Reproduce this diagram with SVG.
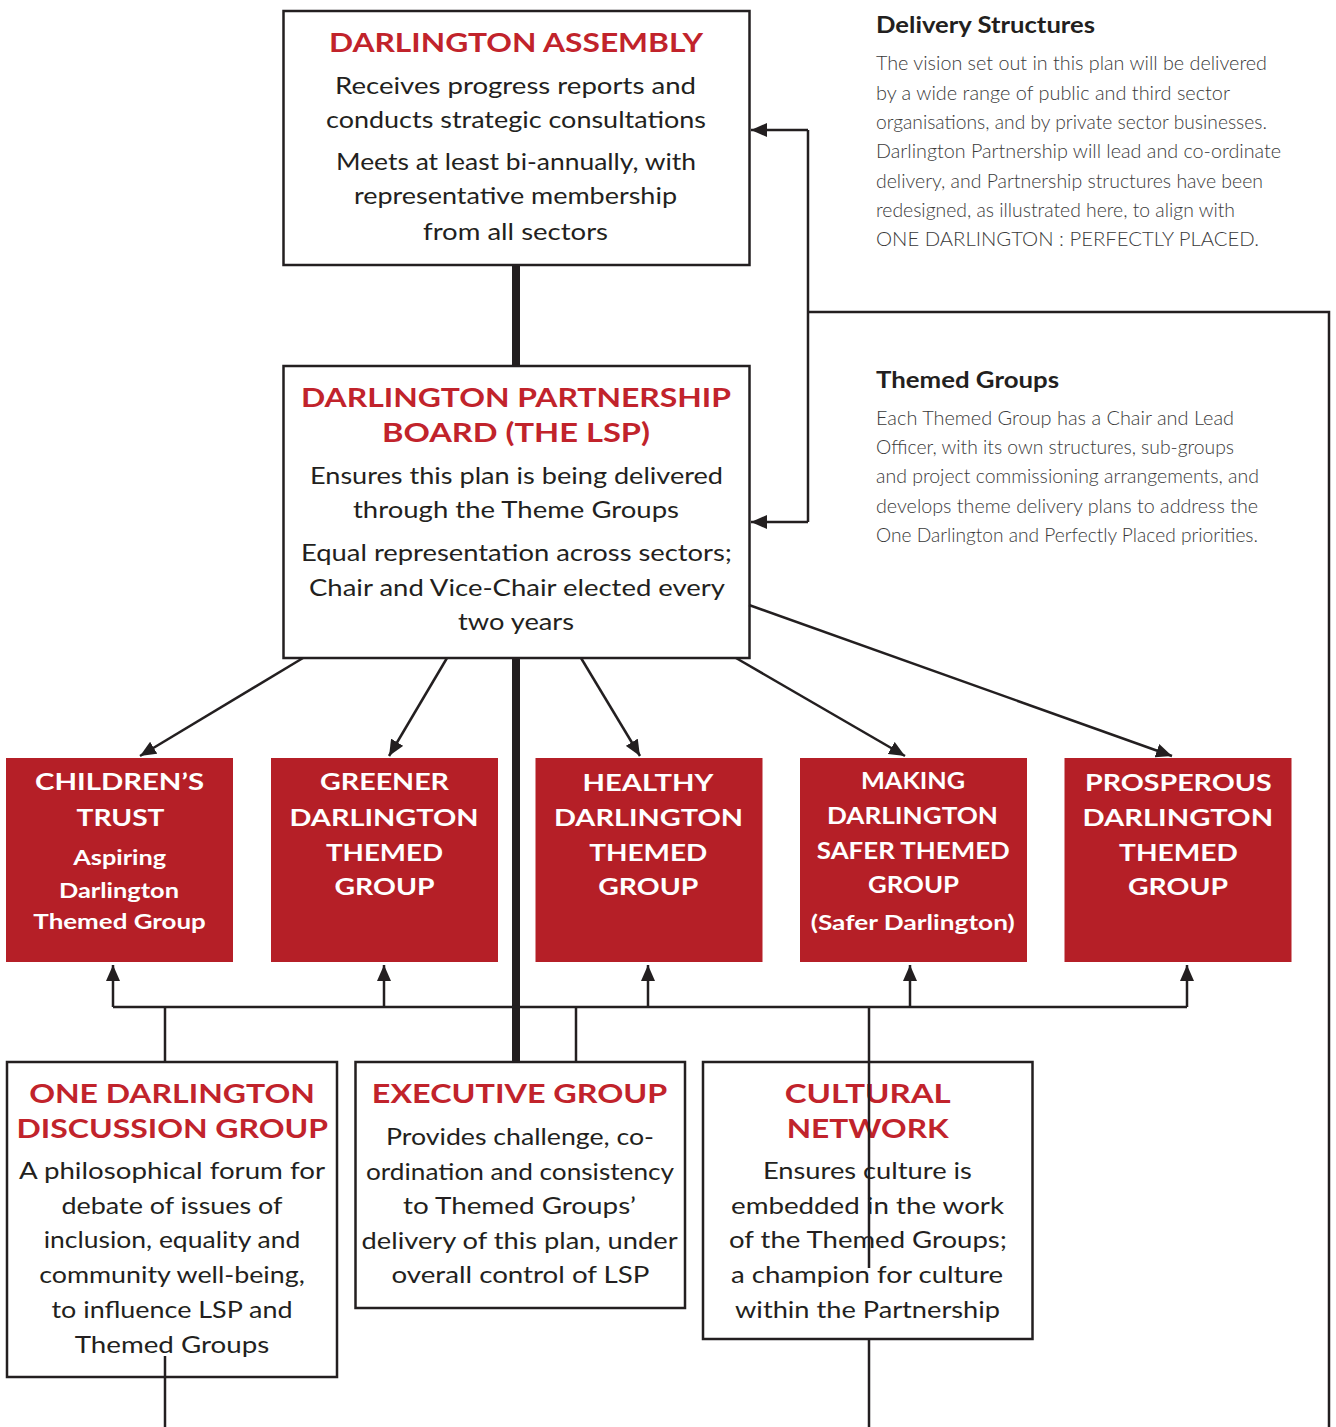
<svg xmlns="http://www.w3.org/2000/svg" width="1336" height="1427" viewBox="0 0 1336 1427">
<defs>
<marker id="ah" viewBox="0 0 16 14" refX="16" refY="7" markerWidth="16" markerHeight="14" markerUnits="userSpaceOnUse" orient="auto"><path d="M0,0 L16,7 L0,14 z" fill="#231f20"/></marker>
<style>
.box{fill:#fff;stroke:#231f20;stroke-width:2.5}
.red{fill:#b51f27}
text{font-family:Lato,"Open Sans","Liberation Sans",sans-serif;text-anchor:middle}
.t{fill:#c1232b;font-weight:bold;font-size:27px}
.b{fill:#231f20;font-size:24px}
.w{fill:#fff;font-weight:bold;font-size:23px}
.ws{fill:#fff;font-weight:bold;font-size:21px}
.h{fill:#231f20;font-weight:bold;font-size:22px;text-anchor:start}
.p{fill:#3a3a3a;font-weight:300;font-size:20px;text-anchor:start}
.ln{fill:none;stroke:#231f20;stroke-width:2.5}
.thick{fill:none;stroke:#231f20;stroke-width:8}
</style>
</defs>
<rect width="1336" height="1427" fill="#fff"/>

<g id="assembly">
<rect class="box" x="283.5" y="11" width="466" height="254"/>
<text class="t" x="516" y="52" textLength="374" lengthAdjust="spacingAndGlyphs">DARLINGTON ASSEMBLY</text>
<text class="b" x="515.5" y="94" textLength="361" lengthAdjust="spacingAndGlyphs">Receives progress reports and</text>
<text class="b" x="516" y="128" textLength="380" lengthAdjust="spacingAndGlyphs">conducts strategic consultations</text>
<text class="b" x="516" y="170" textLength="360" lengthAdjust="spacingAndGlyphs">Meets at least bi-annually, with</text>
<text class="b" x="515.5" y="204" textLength="323" lengthAdjust="spacingAndGlyphs">representative membership</text>
<text class="b" x="515.5" y="240" textLength="185" lengthAdjust="spacingAndGlyphs">from all sectors</text>
</g>

<g id="partnership">
<rect class="box" x="283.5" y="366" width="466" height="292"/>
<text class="t" x="516" y="407" textLength="430" lengthAdjust="spacingAndGlyphs">DARLINGTON PARTNERSHIP</text>
<text class="t" x="516" y="442" textLength="268" lengthAdjust="spacingAndGlyphs">BOARD (THE LSP)</text>
<text class="b" x="516.5" y="484" textLength="413" lengthAdjust="spacingAndGlyphs">Ensures this plan is being delivered</text>
<text class="b" x="516" y="518" textLength="326" lengthAdjust="spacingAndGlyphs">through the Theme Groups</text>
<text class="b" x="516.5" y="561" textLength="431" lengthAdjust="spacingAndGlyphs">Equal representation across sectors;</text>
<text class="b" x="517" y="596" textLength="416" lengthAdjust="spacingAndGlyphs">Chair and Vice-Chair elected every</text>
<text class="b" x="516" y="630" textLength="116" lengthAdjust="spacingAndGlyphs">two years</text>
</g>

<g id="delivery-structures">
<text class="h" x="876" y="33" textLength="219" lengthAdjust="spacingAndGlyphs">Delivery Structures</text>
<text class="p" x="876" y="70" textLength="391" lengthAdjust="spacingAndGlyphs">The vision set out in this plan will be delivered</text>
<text class="p" x="876" y="99.5" textLength="354" lengthAdjust="spacingAndGlyphs">by a wide range of public and third sector</text>
<text class="p" x="876" y="128.7" textLength="391" lengthAdjust="spacingAndGlyphs">organisations, and by private sector businesses.</text>
<text class="p" x="876" y="158" textLength="405" lengthAdjust="spacingAndGlyphs">Darlington Partnership will lead and co-ordinate</text>
<text class="p" x="876" y="187.5" textLength="387" lengthAdjust="spacingAndGlyphs">delivery, and Partnership structures have been</text>
<text class="p" x="876" y="216.7" textLength="359" lengthAdjust="spacingAndGlyphs">redesigned, as illustrated here, to align with</text>
<text class="p" x="876" y="245.7" textLength="383" lengthAdjust="spacingAndGlyphs">ONE DARLINGTON : PERFECTLY PLACED.</text>
</g>

<g id="themed-groups-note">
<text class="h" x="876" y="388" textLength="183" lengthAdjust="spacingAndGlyphs">Themed Groups</text>
<text class="p" x="876" y="425" textLength="358" lengthAdjust="spacingAndGlyphs">Each Themed Group has a Chair and Lead</text>
<text class="p" x="876" y="454.3" textLength="358" lengthAdjust="spacingAndGlyphs">Officer, with its own structures, sub-groups</text>
<text class="p" x="876" y="483.3" textLength="383" lengthAdjust="spacingAndGlyphs">and project commissioning arrangements, and</text>
<text class="p" x="876" y="512.7" textLength="382" lengthAdjust="spacingAndGlyphs">develops theme delivery plans to address the</text>
<text class="p" x="876" y="541.7" textLength="382" lengthAdjust="spacingAndGlyphs">One Darlington and Perfectly Placed priorities.</text>
</g>

<g id="childrens-trust">
<rect class="red" x="6" y="758" width="227" height="204"/>
<text class="w" x="119.5" y="790" textLength="169" lengthAdjust="spacingAndGlyphs">CHILDREN’S</text>
<text class="w" x="120.5" y="826" textLength="88" lengthAdjust="spacingAndGlyphs">TRUST</text>
<text class="ws" x="119.7" y="865" textLength="93" lengthAdjust="spacingAndGlyphs">Aspiring</text>
<text class="ws" x="119" y="898" textLength="120" lengthAdjust="spacingAndGlyphs">Darlington</text>
<text class="ws" x="119.6" y="929" textLength="172.5" lengthAdjust="spacingAndGlyphs">Themed Group</text>
</g>

<g id="greener">
<rect class="red" x="271" y="758" width="227" height="204"/>
<text class="w" x="384.5" y="790" textLength="129" lengthAdjust="spacingAndGlyphs">GREENER</text>
<text class="w" x="384" y="826" textLength="189" lengthAdjust="spacingAndGlyphs">DARLINGTON</text>
<text class="w" x="384.5" y="861" textLength="117" lengthAdjust="spacingAndGlyphs">THEMED</text>
<text class="w" x="384.5" y="895" textLength="100" lengthAdjust="spacingAndGlyphs">GROUP</text>
</g>

<g id="healthy">
<rect class="red" x="535.5" y="758" width="227" height="204"/>
<text class="w" x="648" y="791" textLength="131" lengthAdjust="spacingAndGlyphs">HEALTHY</text>
<text class="w" x="648.5" y="826" textLength="189" lengthAdjust="spacingAndGlyphs">DARLINGTON</text>
<text class="w" x="648.3" y="861" textLength="118" lengthAdjust="spacingAndGlyphs">THEMED</text>
<text class="w" x="648.3" y="895" textLength="100" lengthAdjust="spacingAndGlyphs">GROUP</text>
</g>

<g id="making-safer">
<rect class="red" x="800" y="758" width="227" height="204"/>
<text class="w" x="913" y="789" textLength="104" lengthAdjust="spacingAndGlyphs">MAKING</text>
<text class="w" x="912.5" y="824" textLength="171" lengthAdjust="spacingAndGlyphs">DARLINGTON</text>
<text class="w" x="913.3" y="859" textLength="193" lengthAdjust="spacingAndGlyphs">SAFER THEMED</text>
<text class="w" x="913.5" y="893" textLength="91" lengthAdjust="spacingAndGlyphs">GROUP</text>
<text class="ws" x="912.7" y="930" textLength="204" lengthAdjust="spacingAndGlyphs">(Safer Darlington)</text>
</g>

<g id="prosperous">
<rect class="red" x="1064.5" y="758" width="227" height="204"/>
<text class="w" x="1178.3" y="791" textLength="186.5" lengthAdjust="spacingAndGlyphs">PROSPEROUS</text>
<text class="w" x="1177.8" y="826" textLength="190.6" lengthAdjust="spacingAndGlyphs">DARLINGTON</text>
<text class="w" x="1178.4" y="861" textLength="118.7" lengthAdjust="spacingAndGlyphs">THEMED</text>
<text class="w" x="1178" y="895" textLength="100" lengthAdjust="spacingAndGlyphs">GROUP</text>
</g>

<g id="one-darlington">
<rect class="box" x="7" y="1062" width="330" height="315"/>
<text class="t" x="172" y="1103" textLength="285.7" lengthAdjust="spacingAndGlyphs">ONE DARLINGTON</text>
<text class="t" x="172.3" y="1137.5" textLength="311.6" lengthAdjust="spacingAndGlyphs">DISCUSSION GROUP</text>
<text class="b" x="172" y="1179.3" textLength="306" lengthAdjust="spacingAndGlyphs">A philosophical forum for</text>
<text class="b" x="172" y="1214.3" textLength="221" lengthAdjust="spacingAndGlyphs">debate of issues of</text>
<text class="b" x="172" y="1248.3" textLength="256.7" lengthAdjust="spacingAndGlyphs">inclusion, equality and</text>
<text class="b" x="172" y="1283.3" textLength="265.6" lengthAdjust="spacingAndGlyphs">community well-being,</text>
<text class="b" x="172" y="1318.3" textLength="241" lengthAdjust="spacingAndGlyphs">to influence LSP and</text>
<text class="b" x="172" y="1352.7" textLength="194.6" lengthAdjust="spacingAndGlyphs">Themed Groups</text>
</g>

<g id="executive-group">
<rect class="box" x="355.5" y="1062" width="329.5" height="246"/>
<text class="t" x="519.6" y="1103" textLength="295.5" lengthAdjust="spacingAndGlyphs">EXECUTIVE GROUP</text>
<text class="b" x="520" y="1145" textLength="268" lengthAdjust="spacingAndGlyphs">Provides challenge, co-</text>
<text class="b" x="520" y="1180" textLength="308" lengthAdjust="spacingAndGlyphs">ordination and consistency</text>
<text class="b" x="519.5" y="1214.3" textLength="233" lengthAdjust="spacingAndGlyphs">to Themed Groups’</text>
<text class="b" x="519.6" y="1249.3" textLength="316" lengthAdjust="spacingAndGlyphs">delivery of this plan, under</text>
<text class="b" x="520.5" y="1283.3" textLength="258" lengthAdjust="spacingAndGlyphs">overall control of LSP</text>
</g>

<g id="cultural-network">
<rect class="box" x="703" y="1062" width="329.5" height="277"/>
<text class="t" x="867.7" y="1103" textLength="166" lengthAdjust="spacingAndGlyphs">CULTURAL</text>
<text class="t" x="867.7" y="1137.7" textLength="162" lengthAdjust="spacingAndGlyphs">NETWORK</text>
<text class="b" x="867.4" y="1179.3" textLength="209" lengthAdjust="spacingAndGlyphs">Ensures culture is</text>
<text class="b" x="867.5" y="1214.3" textLength="273" lengthAdjust="spacingAndGlyphs">embedded in the work</text>
<text class="b" x="868" y="1248.3" textLength="278" lengthAdjust="spacingAndGlyphs">of the Themed Groups;</text>
<text class="b" x="867" y="1283.3" textLength="272" lengthAdjust="spacingAndGlyphs">a champion for culture</text>
<text class="b" x="867.5" y="1318.3" textLength="265" lengthAdjust="spacingAndGlyphs">within the Partnership</text>
</g>

<g id="connectors">
<path class="thick" d="M516,265 V366 M516,658 V1062"/>
<path class="ln" d="M808,130 V522"/>
<path class="ln" d="M808,130 H751" marker-end="url(#ah)"/>
<path class="ln" d="M808,522 H751" marker-end="url(#ah)"/>
<path class="ln" d="M808,312 H1329 V1427"/>
<path class="ln" d="M303,658 L140,756" marker-end="url(#ah)"/>
<path class="ln" d="M447,658 L389,756" marker-end="url(#ah)"/>
<path class="ln" d="M581,658 L640,756" marker-end="url(#ah)"/>
<path class="ln" d="M736,658 L905,756" marker-end="url(#ah)"/>
<path class="ln" d="M749,605 L1172,756" marker-end="url(#ah)"/>
<path class="ln" d="M113,1007 H1187"/>
<path class="ln" d="M113,1007 V965" marker-end="url(#ah)"/>
<path class="ln" d="M384,1007 V965" marker-end="url(#ah)"/>
<path class="ln" d="M648,1007 V965" marker-end="url(#ah)"/>
<path class="ln" d="M910,1007 V965" marker-end="url(#ah)"/>
<path class="ln" d="M1187,1007 V965" marker-end="url(#ah)"/>
<path class="ln" d="M165,1007 V1062"/>
<path class="ln" d="M576,1007 V1062"/>
<path class="ln" d="M869,1007 V1268"/>
<path class="ln" d="M869,1339 V1427"/>
<path class="ln" d="M165,1356 V1427"/>
</g>
</svg>
